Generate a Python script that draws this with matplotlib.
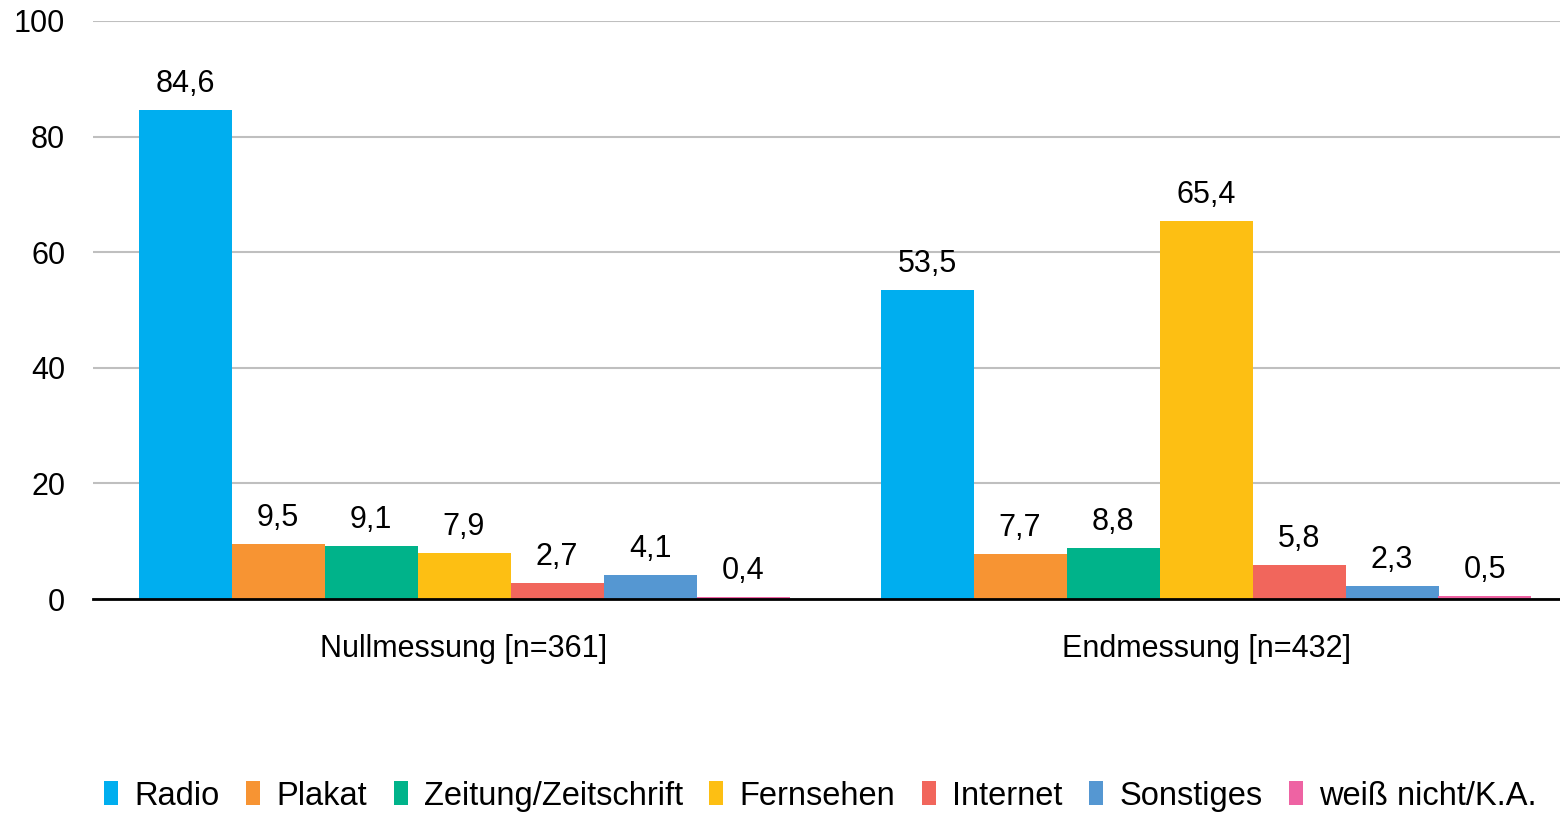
import matplotlib
matplotlib.use("Agg")
import matplotlib.pyplot as plt
import numpy as np

plt.rcParams['font.family'] = ['Liberation Sans', 'DejaVu Sans']

groups = ["Nullmessung [n=361]", "Endmessung [n=432]"]
series = ["Radio", "Plakat", "Zeitung/Zeitschrift", "Fernsehen", "Internet", "Sonstiges", "weiß nicht/K.A."]
values = [
    [84.6, 53.5],
    [9.5, 7.7],
    [9.1, 8.8],
    [7.9, 65.4],
    [2.7, 5.8],
    [4.1, 2.3],
    [0.4, 0.5],
]
colors = ["#00AEEF", "#F79433", "#00B38A", "#FDBF13", "#F1665C", "#5597D2", "#EE63A3"]
yticks = [0, 20, 40, 60, 80, 100]

W, H = 1560, 813
fig = plt.figure(figsize=(W / 100, H / 100), dpi=100)
left = 93 / W
right = (93 + 2 * 742) / W
bottom = (H - 599) / H
top = (H - 21) / H
ax = fig.add_axes([left, bottom, right - left, top - bottom])

x = np.arange(len(groups))
bw = 93 / 742
n = len(series)
for i, (name, vals, c) in enumerate(zip(series, values, colors)):
    pos = x + (i - (n - 1) / 2) * bw
    bars = ax.bar(pos, vals, width=bw, color=c, label=name, zorder=3)
    for b, v in zip(bars, vals):
        ax.annotate(f"{v:.1f}".replace(".", ","), (b.get_x() + b.get_width() / 2, v),
                    xytext=(0, 8), textcoords="offset points", ha="center", va="bottom",
                    fontsize=22, color="#000000")

ax.set_xlim(-0.5, 1.5)
ax.set_ylim(0, 100)
ax.set_yticks(yticks)
ax.set_yticklabels([str(t) for t in yticks], fontsize=22)
ax.set_xticks(x)
ax.set_xticklabels(groups, fontsize=22)
ax.tick_params(axis='y', length=0, pad=20)
ax.tick_params(axis='x', length=0, pad=25)
ax.grid(axis='y', color="#BFBFBF", linewidth=1.5, zorder=0)
for s in ["top", "right", "left"]:
    ax.spines[s].set_visible(False)
ax.spines["bottom"].set_color("#000000")
ax.spines["bottom"].set_linewidth(2)
ax.spines["bottom"].set_zorder(4)

leg = fig.legend(loc="center", bbox_to_anchor=(0.526, 1 - 796 / H), ncol=n, frameon=False,
                 fontsize=23.5, handlelength=0.43, handleheight=0.74, handletextpad=0.5,
                 columnspacing=0.81, borderaxespad=0)

fig.savefig("out.png", dpi=100)
